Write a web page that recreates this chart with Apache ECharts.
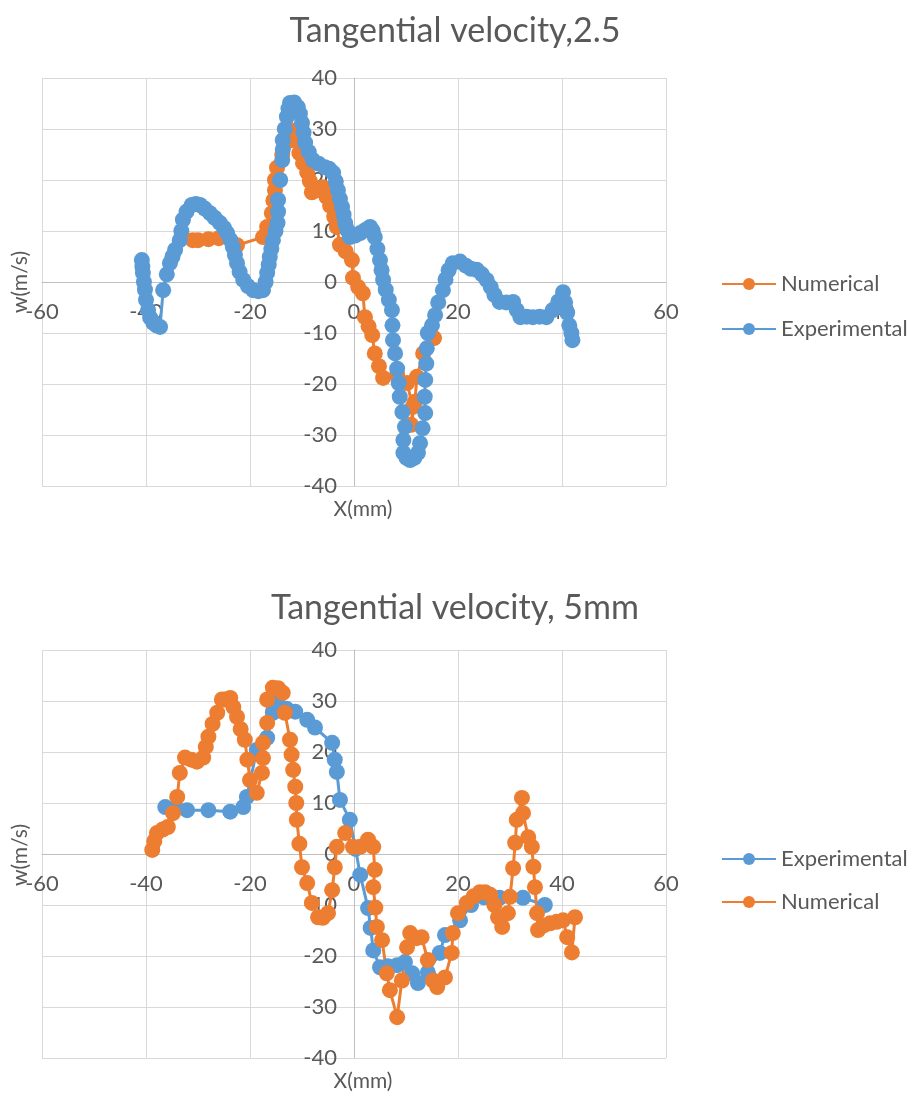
<!DOCTYPE html>
<html>
<head>
<meta charset="utf-8">
<script src="https://cdn.jsdelivr.net/npm/echarts@6/dist/echarts.min.js"></script>
<style>
  html, body { margin: 0; padding: 0; background: #fff; }
  #chart { width: 910px; height: 1097px; }
</style>
</head>
<body>
<div id="chart"></div>
<script>
// data, [x (mm), w (m/s)]
const topTitle = 'Tangential velocity,2.5'
const bottomTitle = 'Tangential velocity, 5mm'
const xTicks = [-60, -40, -20, 0, 20, 40, 60]
const yTicks = [-40, -30, -20, -10, 0, 10, 20, 30, 40]

const topNumerical = [
  [-31, 8.2], [-30, 8.2], [-28, 8.4], [-26, 8.6], [-22.5, 7.2], [-17.5, 8.8], [-16.7, 10.8],
  [-15.8, 13.5], [-15.5, 16], [-15.2, 18], [-15.2, 20], [-14.8, 22.4], [-13.8, 25],
  [-12.9, 27.5], [-12.3, 29.8], [-11.3, 27.8], [-10.5, 25.3], [-9.8, 23.3], [-9, 21.5],
  [-8.5, 19.8], [-8.1, 17.6], [-7, 18], [-6, 18.6], [-5.3, 16.7], [-4.6, 15], [-3.8, 12.8],
  [-3.3, 10.8], [-2.7, 7.3], [-1.6, 6], [-0.4, 4.3], [-0.2, 0.8], [0.8, -1], [1.7, -2.2],
  [2.1, -6.9], [2.8, -8.7], [3.5, -10.4], [4, -14], [4.8, -16.5], [5.6, -18.8],
  [8.3, -18.2], [10.2, -19.8], [11.3, -24.5], [11, -28], [11.7, -23.5], [12.1, -18.6],
  [13.3, -14], [15.4, -11]
]
const topExperimental = [
  [-40.8, 4.3], [-40.7, 3], [-40.6, 1.8], [-40.4, 0], [-40.2, -1.5], [-40, -3.5], [-39.6, -5.5],
  [-39.2, -7], [-38.6, -8], [-38, -8.5], [-37.3, -8.8], [-36.7, -1.6], [-36, 1.5], [-35.4, 3.7],
  [-34.9, 5], [-34.4, 6.3], [-33.5, 8.2], [-33.2, 10], [-32.9, 12.2], [-32.2, 13.8], [-31.2, 15.1],
  [-30.4, 15.3], [-29.6, 15.1], [-28.7, 14.4], [-27.7, 13.5], [-26.8, 12.6], [-25.8, 11.6],
  [-25, 10.6], [-24.4, 9.6], [-23.8, 8.3], [-23.3, 6.9], [-22.9, 5.3], [-22.5, 3.7], [-22, 2],
  [-21.3, 0.4], [-20.4, -0.8], [-19.4, -1.6], [-18.4, -1.8], [-17.5, -1.6], [-17, 0],
  [-16.7, 1.8], [-16.4, 3.4], [-16.2, 4.9], [-15.9, 6.5], [-15.6, 8.2], [-15.1, 10],
  [-14.7, 11.6], [-14.6, 13.8], [-14.6, 16.1], [-14.2, 20], [-13.8, 23.9], [-13.7, 26],
  [-13.7, 27.8], [-13.3, 30], [-12.9, 32.4], [-12.6, 34], [-12.3, 35.1], [-11.5, 35.2],
  [-10.8, 34.3], [-10.4, 33], [-10, 31.2], [-9.7, 29.3], [-9.4, 27.3], [-8.7, 25.5],
  [-7.9, 23.9], [-6.8, 23.2], [-5.6, 22.5], [-4.8, 22.2], [-4, 21.4], [-3.5, 19.7], [-3.1, 18],
  [-2.7, 16.3], [-2.3, 14.7], [-2, 13.2], [-1.7, 11.6], [-1.3, 10.2], [-0.8, 8.8], [0.2, 9.1],
  [1.2, 9.6], [2.2, 10.2], [3.1, 10.8], [3.6, 10], [4, 8.8], [4.5, 6.5], [5, 4.3], [5.3, 2.3],
  [5.6, 0.4], [6.1, -1.5], [6.7, -3.5], [7.3, -5.5], [7.4, -8.5], [7.5, -11.4], [7.9, -14],
  [8.3, -17], [8.6, -19.8], [8.8, -22.5], [9.3, -25.5], [9.8, -28.4], [9.5, -31], [9.5, -33.5],
  [10.1, -34.5], [10.8, -34.9], [11.6, -34.5], [12.3, -33.5], [12.7, -31.6], [13.2, -28.7],
  [13.7, -25.7], [13.6, -22.5], [13.7, -19.2], [13.9, -16], [14, -13], [14.2, -10], [15, -8.5],
  [15.6, -6.5], [16.2, -4], [17.1, -1.6], [17.6, 0.5], [18.2, 2.3], [19, 3.7], [20.4, 4],
  [21.5, 3.2], [22.5, 2.6], [23.6, 2.4], [24.6, 1.5], [25.5, 0.4], [26.3, -1], [27, -2.5],
  [28, -3.9], [29.3, -4], [30.6, -3.9], [31.3, -5.5], [32, -6.9], [33.2, -6.8], [34.4, -6.9],
  [35.7, -6.8], [37, -6.9], [38.2, -5.5], [39.3, -3.8], [40.2, -2], [40.6, -4], [41, -6],
  [41.4, -8.5], [41.8, -10], [42, -11.4]
]

const bottomExperimental = [
  [-36.3, 9.2], [-34.2, 9], [-32.1, 8.6], [-28, 8.6], [-23.8, 8.3], [-21.3, 9.2], [-20.6, 11.2],
  [-18.7, 20.4], [-16.7, 22.8], [-15.6, 27.7], [-14.8, 29.9], [-13, 28.5], [-11.3, 27.9],
  [-9, 26.3], [-7.5, 24.8], [-4.2, 21.8], [-3.7, 18.5], [-3.3, 16.1], [-2.7, 10.6], [-0.8, 6.7],
  [0.3, 1], [1.2, -4.1], [2.7, -10.6], [3.2, -14.5], [3.7, -18.9], [5, -22.2], [6.5, -22],
  [8.3, -21.8], [9.8, -21.2], [11.2, -23.4], [12.3, -25.3], [14.2, -23.2], [16.5, -19.4],
  [17.5, -15.9], [20.4, -13], [22.5, -10], [25, -8.5], [28, -8.6], [32.5, -8.6], [36.7, -10]
]
const bottomNumerical = [
  [-38.8, 0.8], [-38.4, 2.5], [-37.9, 4.1], [-36.8, 4.8], [-35.8, 5.3], [-34.8, 8], [-34, 11.2],
  [-33.5, 15.9], [-32.5, 18.9], [-31.3, 18.5], [-30.2, 18.1], [-29, 18.9], [-28.5, 21], [-28, 23],
  [-27.2, 25.5], [-26.3, 27.7], [-25.4, 30.3], [-24.8, 30.3], [-23.8, 30.6], [-23.2, 28.8],
  [-22.5, 26.9], [-21.8, 24.5], [-21, 22.4], [-20.5, 18.5], [-20, 14.5], [-18.7, 12],
  [-17.7, 15.9], [-17.5, 18.8], [-17.5, 21.8], [-16.7, 25.7], [-16.7, 30.3], [-15.6, 32.6],
  [-14.6, 32.5], [-13.7, 31.6], [-13.3, 27.7], [-12.3, 22.4], [-12, 19.5], [-11.7, 16.5],
  [-11.3, 13.2], [-11.1, 10], [-11, 6.7], [-10.5, 2], [-10, -2.6], [-9, -5.7], [-8.1, -9.6],
  [-6.9, -12.4], [-6, -12.5], [-5, -11.6], [-4.2, -7.1], [-3.7, -2.6], [-3.3, 1.4], [-1.7, 4.1],
  [-0.2, 1.4], [1.2, 1.4], [2.7, 2.8], [3.7, 1.4], [4, -3.1], [3.7, -6.5], [4.1, -10.5],
  [4.4, -14.3], [5.4, -16.9], [6.3, -23.4], [6.9, -26.7], [8.3, -32], [9.2, -24.8],
  [10.2, -18.3], [10.8, -15.5], [12, -16.5], [13, -16.3], [14.2, -20.8], [15.2, -24.8],
  [16, -26.1], [17.5, -24.2], [18.8, -19.4], [19, -15.5], [20, -11.6], [21.7, -9.6], [23, -8.3],
  [24.2, -7.5], [25.2, -7.5], [26.2, -8], [27, -10], [27.7, -12.4], [28.5, -14.3], [29.6, -11.6],
  [30, -8.4], [30.6, -2.8], [31, 2.2], [31.3, 6.7], [32.3, 11], [32.5, 8], [33.5, 3.3],
  [34.2, 1.4], [34.5, -2.5], [34.8, -6.5], [35.2, -11.6], [35.4, -14.9], [36.5, -14],
  [37.7, -13.6], [39, -13.3], [40.2, -13], [41, -16.3], [41.9, -19.3], [42.5, -12.4]
]

const ORANGE = '#ED7D31'
const BLUE = '#5B9BD5'
const TEXT = '#595959'
const FONT = 'Lato'

const GRID_W = 624
const GRID_H = 408

const myChart = echarts.init(document.getElementById('chart'))

// axes cross at the origin; offset moves line + labels there
function xAxisFor(gridIndex) {
  return {
    type: 'value', gridIndex, position: 'bottom', offset: -GRID_H / 2,
    min: xTicks[0], max: xTicks[xTicks.length - 1], interval: xTicks[1] - xTicks[0],
    axisLine: { onZero: false, lineStyle: { color: '#BFBFBF', width: 1 } },
    axisTick: { show: false },
    axisLabel: { color: TEXT, fontSize: 22, fontFamily: FONT, margin: 19 },
    splitLine: { lineStyle: { color: '#D9D9D9', width: 1 } }
  }
}
function yAxisFor(gridIndex) {
  return {
    type: 'value', gridIndex, position: 'left', offset: -GRID_W / 2,
    min: yTicks[0], max: yTicks[yTicks.length - 1], interval: yTicks[1] - yTicks[0],
    axisLine: { onZero: false, lineStyle: { color: '#BFBFBF', width: 1 } },
    axisTick: { show: false },
    axisLabel: { color: TEXT, fontSize: 22, fontFamily: FONT, margin: 17 },
    splitLine: { lineStyle: { color: '#D9D9D9', width: 1 } }
  }
}
function lineSeries(name, color, data, idx) {
  return {
    name, type: 'line', data,
    xAxisIndex: idx, yAxisIndex: idx,
    symbol: 'circle', symbolSize: 16,
    lineStyle: { color, width: 3 },
    itemStyle: { color },
    animation: false
  }
}

const legendText = { color: TEXT, fontSize: 22, fontFamily: FONT, lineHeight: 22 }
const titleText = { color: TEXT, fontSize: 34, fontWeight: 'normal', fontFamily: FONT }
const nameText = { fill: TEXT, fontSize: 21, fontFamily: FONT, align: 'center', verticalAlign: 'middle' }

myChart.setOption({
  backgroundColor: '#fff',
  title: [
    { text: topTitle, left: 'center', top: 9, textStyle: titleText },
    { text: bottomTitle, left: 'center', top: 586, textStyle: titleText }
  ],
  legend: [
    { data: ['Numerical', 'Experimental'], orient: 'vertical', left: 716, top: 268,
      itemWidth: 54, itemHeight: 15, itemGap: 23, textStyle: legendText },
    { data: ['Experimental', 'Numerical'], orient: 'vertical', left: 716, top: 843,
      itemWidth: 54, itemHeight: 15, itemGap: 21, textStyle: legendText }
  ],
  grid: [
    { left: 42, top: 78, width: GRID_W, height: GRID_H },
    { left: 42, top: 650, width: GRID_W, height: GRID_H }
  ],
  xAxis: [xAxisFor(0), xAxisFor(1)],
  yAxis: [yAxisFor(0), yAxisFor(1)],
  graphic: [
    { type: 'text', x: 20, y: 282, rotation: Math.PI / 2, style: Object.assign({ text: 'w(m/s)' }, nameText) },
    { type: 'text', x: 363, y: 509, style: Object.assign({ text: 'X(mm)' }, nameText) },
    { type: 'text', x: 20, y: 855, rotation: Math.PI / 2, style: Object.assign({ text: 'w(m/s)' }, nameText) },
    { type: 'text', x: 363, y: 1081, style: Object.assign({ text: 'X(mm)' }, nameText) }
  ],
  series: [
    lineSeries('Numerical', ORANGE, topNumerical, 0),
    lineSeries('Experimental', BLUE, topExperimental, 0),
    lineSeries('Experimental', BLUE, bottomExperimental, 1),
    lineSeries('Numerical', ORANGE, bottomNumerical, 1)
  ]
})
</script>
</body>
</html>
